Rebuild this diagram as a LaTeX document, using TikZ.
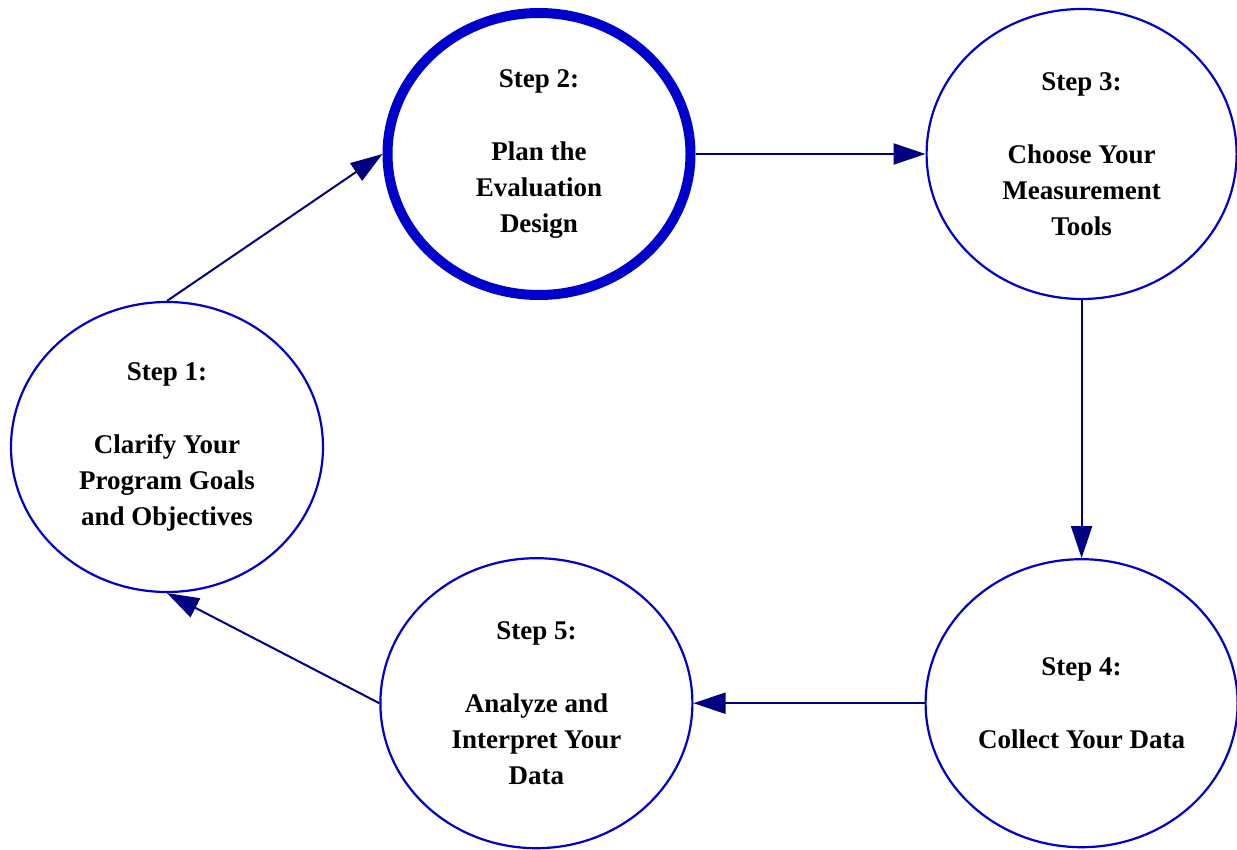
\documentclass[tikz,border=0pt]{standalone}
\usepackage{fontspec}
\setmainfont{Liberation Serif}
\usepackage{tikz}
\usetikzlibrary{arrows.meta, positioning, shapes.geometric}

\definecolor{ringblue}{HTML}{0000CC}
\definecolor{arrownavy}{HTML}{000080}

\begin{document}
\begin{tikzpicture}[
  x=1pt, y=-1pt,
  stepnode/.style={ellipse, draw=ringblue, line width=2.2pt, inner sep=0pt,
    align=center, font=\fontsize{27}{36}\selectfont\bfseries},
  flow/.style={color=arrownavy, line width=2pt,
    -{Triangle[length=32pt, width=21pt]}}
]
  \useasboundingbox (0,0) rectangle (1237,850);

  \node[stepnode, minimum width=312pt, minimum height=290pt] (s1) at (167,447)
    {Step 1:\\[37pt]Clarify Your\\Program Goals\\and Objectives};
  \node[stepnode, line width=10pt, minimum width=303pt, minimum height=282pt] (s2) at (539,154)
    {Step 2:\\[37pt]Plan the\\Evaluation\\Design};
  \node[stepnode, minimum width=310pt, minimum height=290pt, right=230pt of s2] (s3)
    {Step 3:\\[37pt]Choose Your\\Measurement\\Tools};
  \node[stepnode, minimum width=312pt, minimum height=288pt, below=258pt of s3] (s4)
    {Step 4:\\[37pt]Collect Your Data};
  \node[stepnode, minimum width=312pt, minimum height=290pt, left=231pt of s4] (s5)
    {Step 5:\\[37pt]Analyze and\\Interpret Your\\Data};

  \path
    (s1.north) edge[flow] (s2.west)
    (s2.east)  edge[flow] (s3.west)
    (s3.south) edge[flow] (s4.north)
    (s4.west)  edge[flow] (s5.east)
    (s5.west)  edge[flow] (s1.south);
\end{tikzpicture}
\end{document}
